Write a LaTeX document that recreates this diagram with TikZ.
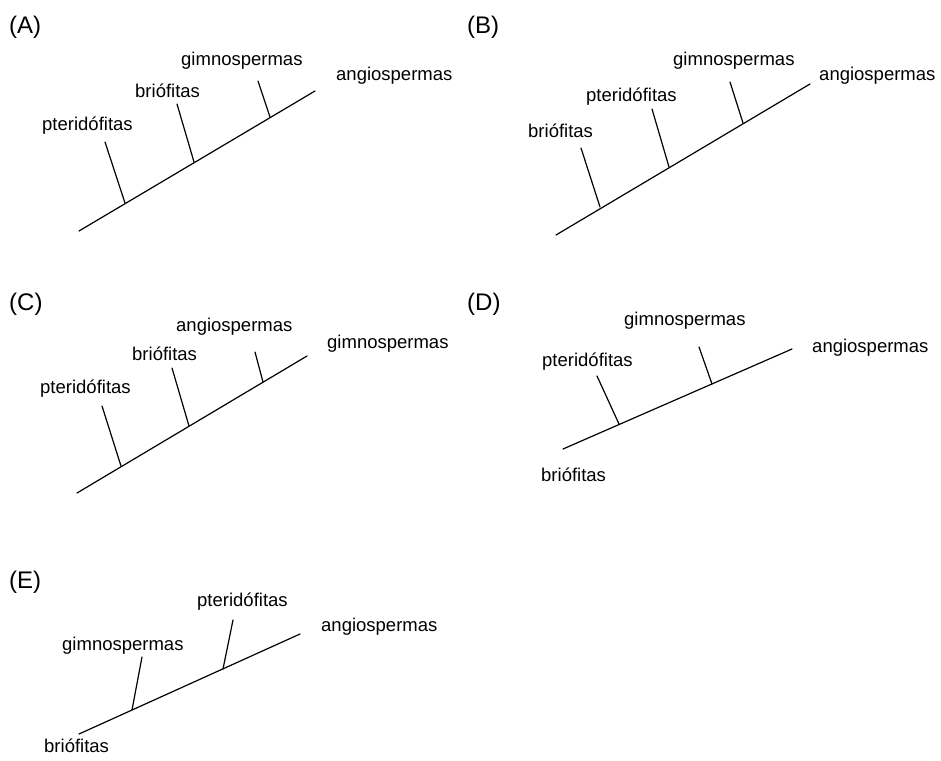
\documentclass[tikz,border=0pt]{standalone}
\usepackage{fontspec}
\setmainfont{Liberation Sans}
\begin{document}
\begin{tikzpicture}[x=1pt,y=-1pt,
  lbl/.style={anchor=base west,inner sep=0pt,font=\fontsize{18.5}{20}\selectfont},
  tag/.style={anchor=base west,inner sep=0pt,font=\fontsize{24}{26}\selectfont},
  branch/.style={line width=1.2pt,line cap=round}]
\useasboundingbox (0,0) rectangle (941,760);
% ---------------- (A)
\node[tag] (tA) at (9,34) {(A)};
\coordinate (A0) at (79,231); \coordinate (A1) at (315,91);
\coordinate (Ap1) at (105,142); \coordinate (Ap2) at (125,203);
\coordinate (Ab1) at (177,104); \coordinate (Ab2) at (194,162);
\coordinate (Ag1) at (258,81);  \coordinate (Ag2) at (270,117);
\draw[branch] (A0) -- (A1);
\draw[branch] (Ap1) -- (Ap2);
\draw[branch] (Ab1) -- (Ab2);
\draw[branch] (Ag1) -- (Ag2);
\node[lbl] (Apl) at (42,130) {pteridófitas};
\node[lbl] (Abl) at (135,97) {briófitas};
\node[lbl] (Agl) at (181,65) {gimnospermas};
\node[lbl] (Aal) at (336,81) {angiospermas};
% ---------------- (B)
\node[tag] (tB) at (467,34) {(B)};
\coordinate (B0) at (556,235); \coordinate (B1) at (810,84);
\coordinate (Bb1) at (581,148); \coordinate (Bb2) at (600,207);
\coordinate (Bp1) at (652,109); \coordinate (Bp2) at (669,167);
\coordinate (Bg1) at (730,82);  \coordinate (Bg2) at (743,123);
\draw[branch] (B0) -- (B1);
\draw[branch] (Bb1) -- (Bb2);
\draw[branch] (Bp1) -- (Bp2);
\draw[branch] (Bg1) -- (Bg2);
\node[lbl] (Bbl) at (528,137) {briófitas};
\node[lbl] (Bpl) at (586,101) {pteridófitas};
\node[lbl] (Bgl) at (673,66) {gimnospermas};
\node[lbl] (Bal) at (819,81) {angiospermas};
% ---------------- (C)
\node[tag] (tC) at (9,310) {(C)};
\coordinate (C0) at (77,493); \coordinate (C1) at (307,356);
\coordinate (Cp1) at (102,406); \coordinate (Cp2) at (121,466);
\coordinate (Cb1) at (172,368); \coordinate (Cb2) at (189,426);
\coordinate (Ca1) at (255,352); \coordinate (Ca2) at (263,382);
\draw[branch] (C0) -- (C1);
\draw[branch] (Cp1) -- (Cp2);
\draw[branch] (Cb1) -- (Cb2);
\draw[branch] (Ca1) -- (Ca2);
\node[lbl] (Cpl) at (40,393) {pteridófitas};
\node[lbl] (Cbl) at (132,360) {briófitas};
\node[lbl] (Cal) at (176,331) {angiospermas};
\node[lbl] (Cgl) at (327,348) {gimnospermas};
% ---------------- (D)
\node[tag] (tD) at (467,310) {(D)};
\coordinate (D0) at (563,449); \coordinate (D1) at (792,349);
\coordinate (Dp1) at (597,376); \coordinate (Dp2) at (619,424);
\coordinate (Dg1) at (699,347); \coordinate (Dg2) at (712,384);
\draw[branch] (D0) -- (D1);
\draw[branch] (Dp1) -- (Dp2);
\draw[branch] (Dg1) -- (Dg2);
\node[lbl] (Dpl) at (542,366) {pteridófitas};
\node[lbl] (Dgl) at (624,325) {gimnospermas};
\node[lbl] (Dal) at (812,352) {angiospermas};
\node[lbl] (Dbl) at (541,481) {briófitas};
% ---------------- (E)
\node[tag] (tE) at (9,588) {(E)};
\coordinate (E0) at (79,734); \coordinate (E1) at (300,634);
\coordinate (Eg1) at (142,657); \coordinate (Eg2) at (132,710);
\coordinate (Ep1) at (233,620); \coordinate (Ep2) at (223,669);
\draw[branch] (E0) -- (E1);
\draw[branch] (Eg1) -- (Eg2);
\draw[branch] (Ep1) -- (Ep2);
\node[lbl] (Egl) at (62,650) {gimnospermas};
\node[lbl] (Epl) at (197,606) {pteridófitas};
\node[lbl] (Eal) at (321,631) {angiospermas};
\node[lbl] (Ebl) at (44,752) {briófitas};
\end{tikzpicture}
\end{document}
